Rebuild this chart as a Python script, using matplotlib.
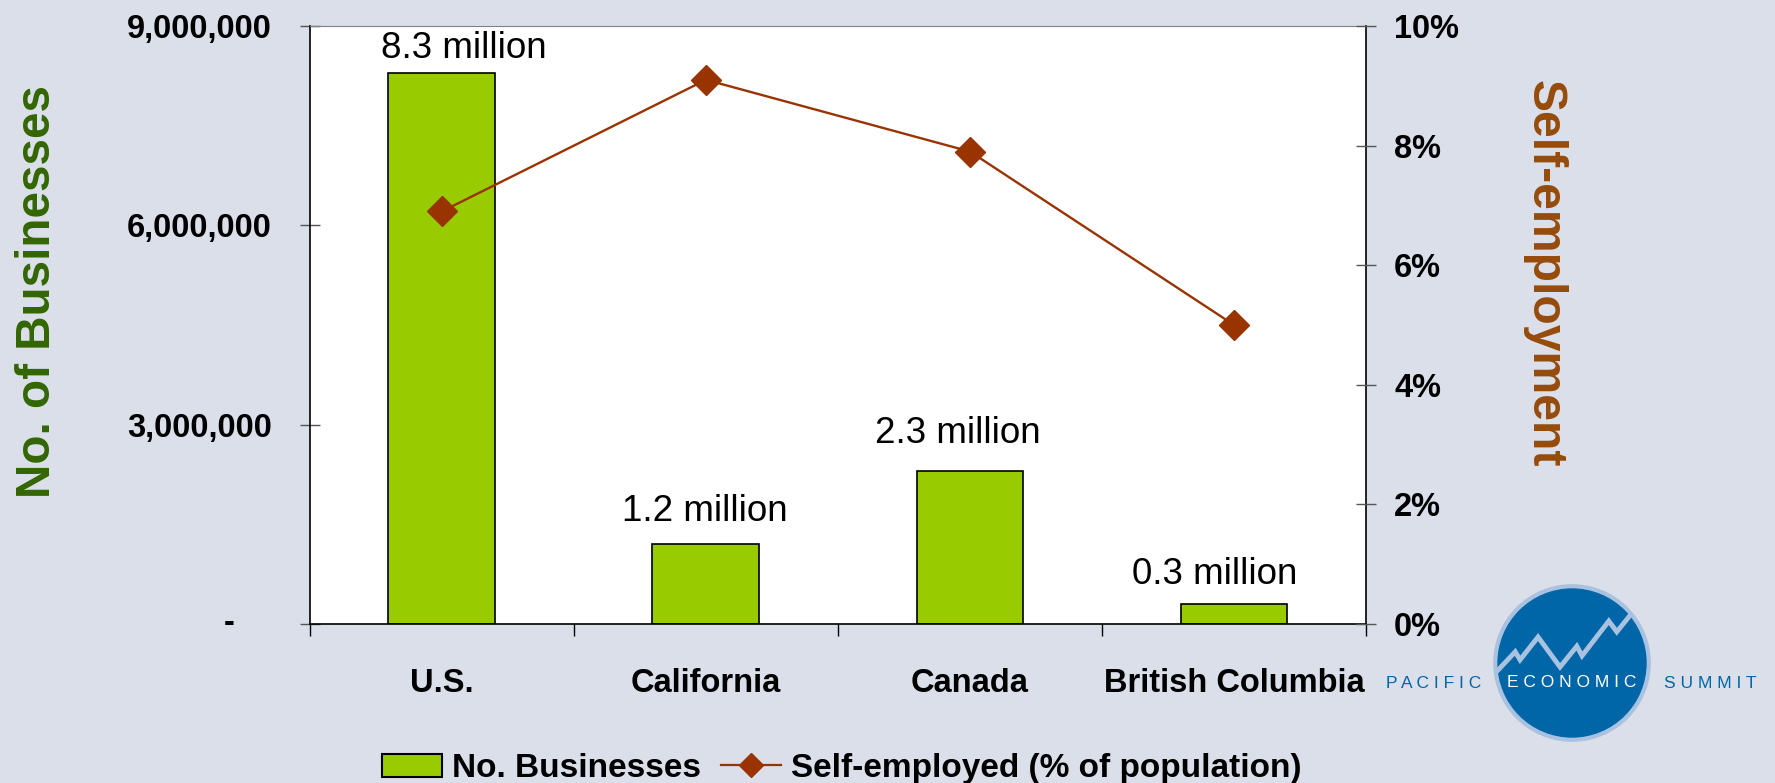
import matplotlib
matplotlib.use("Agg")
import matplotlib.pyplot as plt
import matplotlib.transforms as mtransforms
from matplotlib.patches import Circle, Patch
from matplotlib.lines import Line2D
from matplotlib.ticker import FixedLocator, FuncFormatter

plt.rcParams['font.family'] = ['Liberation Sans', 'DejaVu Sans']

# data
regions = ["U.S.", "California", "Canada", "British Columbia"]
businesses = [8300000, 1200000, 2300000, 300000]
bar_labels = ["8.3 million", "1.2 million", "2.3 million", "0.3 million"]
self_emp_pct = [6.9, 9.1, 7.9, 5.0]

# the labels in the original were nudged by hand (points)
label_dx = [15.5, -0.8, -9, -13.9]
label_dy = [17.2, 23.5, 27.3, 21]

bg = '#dadfea'
green_bar = '#99cc00'
line_col = '#993300'

fig = plt.figure(figsize=(17.75, 7.83), dpi=100, facecolor=bg)
ax = fig.add_axes([0.1746, 0.2031, 0.5950, 0.7637])
ax.set_facecolor('white')

x = list(range(len(regions)))
bars = ax.bar(x, businesses, width=0.405, color=green_bar, edgecolor='black', linewidth=1.2, zorder=2)
for xi, v, lab, dx, dy in zip(x, businesses, bar_labels, label_dx, label_dy):
    ax.annotate(lab, (xi, v), xytext=(dx, dy), textcoords='offset points',
                ha='center', va='center', fontsize=26.5)

ax.set_xlim(-0.5, 3.5)
ax.set_ylim(0, 9000000)
ax.set_xticks(x)
ax.set_xticklabels(regions, fontsize=23.5, fontweight='bold')
ax.xaxis.set_minor_locator(FixedLocator([-0.5, 0.5, 1.5, 2.5, 3.5]))
ax.tick_params(axis='x', which='major', length=0, pad=31.5)
ax.tick_params(axis='x', which='minor', length=8.6, direction='out', width=1)

ax.set_yticks([0, 3000000, 6000000, 9000000])
ax.yaxis.set_major_formatter(FuncFormatter(lambda v, p: '' if v == 0 else f'{int(v):,}'))
ax.tick_params(axis='y', direction='inout', length=15, width=1, color='#555555', pad=20,
               labelsize=23.5)
for t in ax.get_yticklabels():
    t.set_fontweight('bold')
ax.text(-0.071, 0, '-', transform=mtransforms.blended_transform_factory(ax.transAxes, ax.transData),
        ha='right', va='center', fontsize=23.5, fontweight='bold')

ax.spines['top'].set_color('#808080')
for s in ['left', 'right', 'bottom']:
    ax.spines[s].set_color('black')
    ax.spines[s].set_linewidth(1.2)

ax2 = ax.twinx()
ax2.plot(x, self_emp_pct, color=line_col, linewidth=1.7, marker='D', markersize=15,
         markeredgecolor=line_col, markerfacecolor=line_col, zorder=3)
ax2.set_ylim(0, 10)
ax2.set_yticks([0, 2, 4, 6, 8, 10])
ax2.yaxis.set_major_formatter(FuncFormatter(lambda v, p: f'{int(v)}%'))
ax2.tick_params(axis='y', direction='inout', length=15, width=1, color='#555555', pad=12.7,
                labelsize=23.5)
for t in ax2.get_yticklabels():
    t.set_fontweight('bold')
for s in ax2.spines.values():
    s.set_visible(False)

fig.text(0.021, 0.628, 'No. of Businesses', rotation=90, ha='center', va='center',
         fontsize=34.3, fontweight='bold', color='#336600')
fig.text(0.870, 0.650, 'Self-employment', rotation=-90, ha='center', va='center',
         fontsize=34.7, fontweight='bold', color='#964b0a')

handles = [Patch(facecolor=green_bar, edgecolor='black', linewidth=1.5),
           Line2D([], [], color=line_col, linewidth=1.6, marker='D', markersize=12,
                  markerfacecolor=line_col, markeredgecolor=line_col)]
fig.legend(handles, ['No. Businesses', 'Self-employed (% of population)'],
           loc='lower center', bbox_to_anchor=(0.474, -0.027), ncol=2, frameon=False,
           prop={'size': 24, 'weight': 'bold'}, handlelength=1.8, handletextpad=0.3,
           columnspacing=0.6, borderpad=0.1)

# logo
lax = fig.add_axes([0.8406, 0.0511, 0.0901, 0.2043])
lax.set_xlim(-1, 1)
lax.set_ylim(-1, 1)
lax.set_aspect('equal')
lax.axis('off')
circ = Circle((0, 0), 0.96, facecolor='#0066a8', edgecolor='#a8c2df', linewidth=3)
lax.add_patch(circ)
zx = [-0.96, -0.71, -0.65, -0.425, -0.15, 0.06, 0.125, 0.46, 0.56, 0.75]
zy = [-0.125, 0.14, 0.04, 0.325, -0.05, 0.21, 0.09, 0.525, 0.39, 0.625]
zz, = lax.plot(zx, zy, color='#a8c2df', linewidth=3.5, solid_joinstyle='miter')
zz.set_clip_path(circ)
lax.text(0, -0.25, 'E C O N O M I C', color='white', ha='center', va='center', fontsize=12.5)
fig.text(0.8076, 0.1277, 'P A C I F I C', color='#0066a8', ha='center', va='center', fontsize=12.5)
fig.text(0.9634, 0.1277, 'S U M M I T', color='#0066a8', ha='center', va='center', fontsize=12.5)

fig.savefig('out.png', dpi=100, facecolor=bg)
